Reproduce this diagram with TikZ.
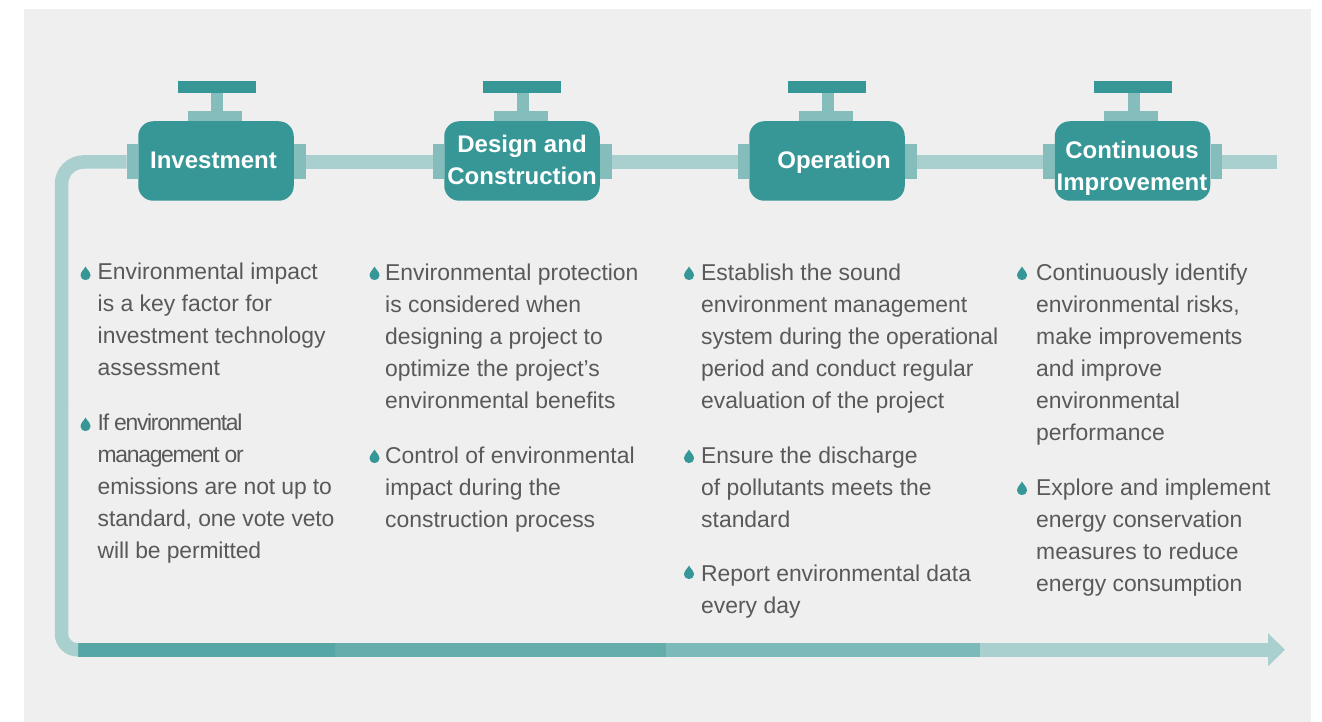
\documentclass[tikz,border=0pt]{standalone}
\usepackage{fontspec}
\setmainfont{Liberation Sans}
\usetikzlibrary{arrows.meta}
\definecolor{panel}{HTML}{EFEFEF}
\definecolor{tealdark}{HTML}{379797}
\definecolor{tealmid}{HTML}{85BCBC}
\definecolor{teallight}{HTML}{A9CFCF}
\definecolor{segA}{HTML}{57A6A6}
\definecolor{segB}{HTML}{65ADAD}
\definecolor{segC}{HTML}{7ABABA}
\definecolor{bodytext}{HTML}{595959}
\tikzset{
  box/.style={draw=none,inner sep=0pt,outer sep=0pt,minimum width=#1},
  valvebody/.style={box=155.5pt,minimum height=79.5pt,fill=tealdark,rounded corners=15pt},
  flange/.style={box=11.5pt,minimum height=35pt,fill=tealmid},
  valvecap/.style={box=54pt,minimum height=10pt,fill=tealmid},
  valvestem/.style={box=12pt,minimum height=18pt,fill=tealmid},
  valvehandle/.style={box=78pt,minimum height=12pt,fill=tealdark},
  pipeline/.style={line width=14pt,draw=teallight},
  seg/.style={box=#1,minimum height=13.5pt,anchor=west},
  title/.style={inner sep=0pt,align=center,text=white,font=\fontsize{24}{32}\selectfont\bfseries},
  para/.style={inner sep=0pt,anchor=north west,align=left,text=bodytext,font=\fontsize{22.9}{32}\selectfont},
  dropmark/.style={fill=tealdark,draw=none}
}
\newcommand{\valve}[3]{%
  \node[valvebody] (#2body) at (#1+216,161) {};
  \node[flange] (#2l) at (#1+132.25,161.5) {};
  \node[flange] (#2r) at (#1+299.75,161.5) {};
  \node[valvecap] (#2cap) at (#1+214.5,116) {};
  \node[valvestem] (#2stem) at (#1+217,102) {};
  \node[valvehandle] (#2handle) at (#3+216.5,87) {};
}
\newcommand{\drop}[2]{%
  \fill[dropmark] (#1,#2-7) .. controls (#1+1.5,#2-4) and (#1+5,#2-1.5) .. (#1+5,#2+2)
    .. controls (#1+5,#2+5) and (#1+2.5,#2+6.5) .. (#1,#2+6.5)
    .. controls (#1-2.5,#2+6.5) and (#1-5,#2+5) .. (#1-5,#2+2)
    .. controls (#1-5,#2-1.5) and (#1-1.5,#2-4) .. (#1,#2-7);
}
\newcommand{\fst}{\rule{0pt}{20pt}}
\newcommand{\tight}{\addfontfeature{LetterSpace=-5.7}}
\newcommand{\snug}{\addfontfeature{LetterSpace=-0.6}}
\begin{document}
\begin{tikzpicture}[x=1pt,y=-1pt]
\useasboundingbox (0,0) rectangle (1322,722);
\fill[panel] (24,9) rectangle (1311,722);
\valve{0}{a}{0}
\valve{306}{b}{305.5}
\valve{611}{c}{610.5}
\valve{916.5}{d}{916.5}
% bottom bar
\node[seg=257pt,fill=segA] (s1) at (78,649.75) {};
\node[seg=331pt,fill=segB] (s2) at (335,649.75) {};
\node[seg=314pt,fill=segC] (s3) at (666,649.75) {};
\coordinate (tip) at (1285,649.75);
\coordinate (corner) at (61.5,400);
\coordinate (pipeend) at (1277,162);
% pipes
\draw[draw=teallight,line width=13.5pt,rounded corners=22pt] ([yshift=-0.5pt]al.west) -| (corner);
\draw[draw=teallight,line width=13.5pt,rounded corners=16pt] (corner) |- (s1.west);
\draw[pipeline] ([yshift=-0.5pt]ar.east) -- ([yshift=-0.5pt]bl.west);
\draw[pipeline] ([yshift=-0.5pt]br.east) -- ([yshift=-0.5pt]cl.west);
\draw[pipeline] ([yshift=-0.5pt]cr.east) -- ([yshift=-0.5pt]dl.west);
\draw[pipeline] ([yshift=-0.5pt]dr.east) -- (pipeend);
\draw[draw=teallight,line width=13.5pt,-{Triangle[length=17pt,width=32pt]}] (s3.east) -- (tip);
% titles
\node[title] (t1) at (213.5,160) {Investment};
\node[title] (t2) at (522,160) {Design and\\Construction};
\node[title] (t3) at (834,162) {Operation};
\node[title] (t4) at (1132,168) {Continuous\\Improvement};
% column 1
\drop{85.5}{273.5}
\node[para] (p11) at (97.5,259.7) {\fst Environmental impact\\is a key factor for\\investment technology\\assessment};
\drop{85.5}{424.5}
\node[para] (p12) at (97.5,410) {\fst{\tight If environmental}\\{\tight management or}\\{\snug emissions are not up to}\\{\snug standard, one vote veto}\\{\snug will be permitted}};
% column 2
\drop{374.5}{273.5}
\node[para] (p21) at (385,260) {\fst Environmental protection\\is considered when\\designing a project to\\optimize the project’s\\environmental benefits};
\drop{374.5}{456.5}
\node[para] (p22) at (385,443) {\fst Control of environmental\\impact during the\\construction process};
% column 3
\drop{689}{273.5}
\node[para] (p31) at (701,260) {\fst Establish the sound\\environment management\\{\snug system during the operational}\\period and conduct regular\\evaluation of the project};
\drop{689}{456.5}
\node[para] (p32) at (701,443) {\fst Ensure the discharge\\of pollutants meets the\\standard};
\drop{689}{572.5}
\node[para] (p33) at (701,561) {\fst Report environmental data\\every day};
% column 4
\drop{1022}{273.5}
\node[para] (p41) at (1036,260) {\fst Continuously identify\\environmental risks,\\make improvements\\and improve\\environmental\\performance};
\drop{1022}{488.5}
\node[para] (p42) at (1036,475) {\fst Explore and implement\\energy conservation\\measures to reduce\\energy consumption};
\end{tikzpicture}
\end{document}
